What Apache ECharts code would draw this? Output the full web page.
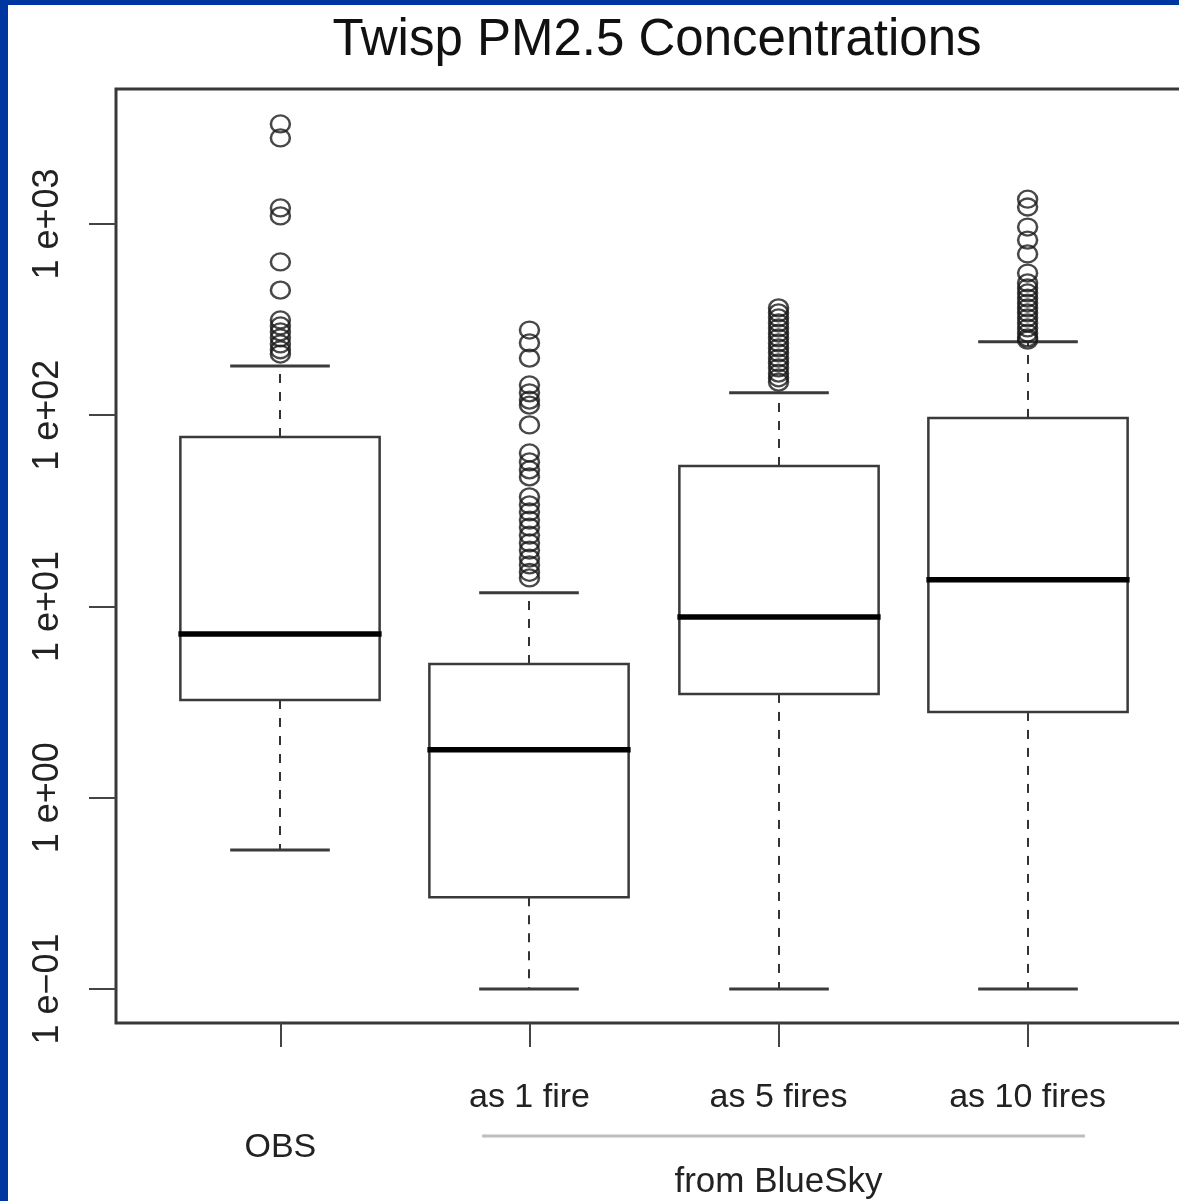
<!DOCTYPE html>
<html>
<head>
<meta charset="utf-8">
<title>Twisp PM2.5 Concentrations</title>
<script src="https://cdn.jsdelivr.net/npm/echarts@6/dist/echarts.min.js"></script>
<style>
  html, body { margin: 0; padding: 0; background: #fff; }
  #chart { width: 1179px; height: 1201px; }
</style>
</head>
<body>
<div id="chart"></div>
<script>
// ==========================================
// DATA (ug/m3)
// ==========================================
const categories = ['OBS', 'as 1 fire', 'as 5 fires', 'as 10 fires'];
const lowerWhisker = [0.533, 0.1, 0.1, 0.1];
const q1 = [3.24, 0.302, 3.49, 2.81];
const median = [7.18, 1.78, 8.81, 13.8];
const q3 = [76.9, 5.0, 54.3, 96.8];
const upperWhisker = [181, 11.8, 131, 242];

const outliersObs = [3334, 2818, 1213, 1102, 633, 451, 315, 293, 273, 254, 236, 220, 209];
const outliers1Fire = [279, 239, 199, 144, 131, 120, 113, 89, 63.5, 57, 51.8, 47.6,
  37.4, 34, 31.2, 28.3, 26, 23.6, 21.5, 19.7, 17.9, 16.5, 15.1, 14.1];
const outliers5Fires = [364, 343, 323, 304, 286, 269, 254, 239, 225, 212, 199, 188, 177, 166, 157, 149];
const outliers10Fires = [1348, 1227, 964, 824, 697, 554, 492, 463, 436, 410, 386, 364,
  343, 323, 304, 286, 269, 254, 247];
const outliers = [outliersObs, outliers1Fire, outliers5Fires, outliers10Fires];

const yTicks = [0.1, 1, 10, 100, 1000];
const yRange = [0.0664, 5080];

// ==========================================
// CHART
// ==========================================
const FONT = 'Liberation Sans';
const log = v => Math.log10(v);

const boxData = categories.map((c, i) => [
  i + 1, log(lowerWhisker[i]), log(q1[i]), log(median[i]), log(q3[i]), log(upperWhisker[i])
]);

const outlierData = [];
outliers.forEach((list, i) => {
  list.forEach(v => outlierData.push([i + 1, log(v)]));
});

function tickLabel(v) {
  const e = Math.round(v);
  const sign = e < 0 ? '\u2212' : '+';
  return '1 e' + sign + String(Math.abs(e)).padStart(2, '0');
}

function renderBox(params, api) {
  const x = api.value(0);
  const lo = api.coord([x, api.value(1)]);
  const b1 = api.coord([x, api.value(2)]);
  const md = api.coord([x, api.value(3)]);
  const b3 = api.coord([x, api.value(4)]);
  const hi = api.coord([x, api.value(5)]);
  const w = api.size([0.8, 0])[0];
  const cx = Math.round(lo[0]);
  const dashed = { stroke: '#333', lineWidth: 2, lineDash: [9, 9] };
  const solid = { stroke: '#3a3a3a', lineWidth: 3 };
  return {
    type: 'group',
    children: [
      { type: 'line', shape: { x1: cx, y1: b3[1], x2: cx, y2: hi[1] }, style: dashed },
      { type: 'line', shape: { x1: cx, y1: b1[1], x2: cx, y2: lo[1] }, style: dashed },
      { type: 'line', shape: { x1: cx - w / 4, y1: hi[1], x2: cx + w / 4, y2: hi[1] }, style: solid },
      { type: 'line', shape: { x1: cx - w / 4, y1: lo[1], x2: cx + w / 4, y2: lo[1] }, style: solid },
      {
        type: 'rect',
        shape: { x: cx - w / 2, y: b3[1], width: w, height: b1[1] - b3[1] },
        style: { fill: '#fff', stroke: '#3a3a3a', lineWidth: 2.5 }
      },
      {
        type: 'line',
        shape: { x1: cx - w / 2 - 2, y1: md[1], x2: cx + w / 2 + 2, y2: md[1] },
        style: { stroke: '#000', lineWidth: 5.5 }
      }
    ]
  };
}

const chart = echarts.init(document.getElementById('chart'), null, { renderer: 'canvas' });

const option = {
  backgroundColor: '#fff',
  animation: false,
  title: {
    text: 'Twisp PM2.5 Concentrations',
    left: 652,
    top: 10,
    textAlign: 'center',
    textStyle: { fontFamily: FONT, fontSize: 51, fontWeight: 'normal', color: '#111' }
  },
  grid: {
    left: 116,
    top: 89,
    right: -13,
    bottom: 178,
    outerBoundsMode: 'none',
    show: true,
    borderColor: '#383838',
    borderWidth: 3,
    backgroundColor: 'transparent'
  },
  xAxis: {
    type: 'value',
    min: 0.34,
    max: 4.66,
    splitLine: { show: false },
    axisLine: { show: false, onZero: false },
    axisTick: {
      show: true,
      customValues: [1, 2, 3, 4],
      length: 24,
      lineStyle: { color: '#444', width: 2 }
    },
    axisLabel: {
      customValues: [1, 2, 3, 4],
      margin: 50,
      fontFamily: FONT,
      fontSize: 34,
      color: '#222',
      lineHeight: 50,
      formatter: v => {
        const name = categories[Math.round(v) - 1];
        return Math.round(v) === 1 ? '\n' + name : name;
      }
    }
  },
  yAxis: {
    type: 'value',
    min: log(yRange[0]),
    max: log(yRange[1]),
    splitLine: { show: false },
    axisLine: { show: false, onZero: false },
    axisTick: {
      show: true,
      customValues: yTicks.map(log),
      length: 27,
      lineStyle: { color: '#444', width: 2 }
    },
    axisLabel: {
      customValues: yTicks.map(log),
      rotate: 90,
      margin: 50,
      fontFamily: FONT,
      fontSize: 36,
      color: '#222',
      formatter: tickLabel
    }
  },
  series: [
    {
      name: 'boxes',
      type: 'custom',
      renderItem: renderBox,
      encode: { x: 0, y: [1, 2, 3, 4, 5] },
      data: boxData,
      z: 2
    },
    {
      name: 'outliers',
      type: 'scatter',
      symbol: 'circle',
      symbolSize: [19, 17],
      itemStyle: { color: 'rgba(0,0,0,0)', borderColor: '#1a1a1a', borderWidth: 2.4 },
      data: outlierData,
      z: 3
    }
  ]
};

chart.setOption(option);

// ==========================================
// BLUESKY BRACKET + PAGE FRAME
// ==========================================
const bracketRange = [1.81, 4.23];
const pLeft = chart.convertToPixel({ gridIndex: 0 }, [bracketRange[0], 0]);
const pRight = chart.convertToPixel({ gridIndex: 0 }, [bracketRange[1], 0]);
const pMid = chart.convertToPixel({ gridIndex: 0 }, [3, 0]);

chart.setOption({
  graphic: [
    { type: 'rect', left: 0, top: 0, shape: { width: 8, height: 1201 }, style: { fill: '#0036a0' } },
    { type: 'rect', left: 0, top: 0, shape: { width: 1179, height: 5 }, style: { fill: '#0036a0' } },
    {
      type: 'line',
      shape: { x1: pLeft[0], y1: 1136, x2: pRight[0], y2: 1136 },
      style: { stroke: '#bdbdbd', lineWidth: 3 }
    },
    {
      type: 'text',
      x: pMid[0],
      y: 1182,
      style: {
        text: 'from BlueSky',
        font: '35px "Liberation Sans"',
        fill: '#222',
        textAlign: 'center',
        textVerticalAlign: 'middle'
      }
    }
  ]
});

window.addEventListener('resize', () => chart.resize());
</script>
</body>
</html>
